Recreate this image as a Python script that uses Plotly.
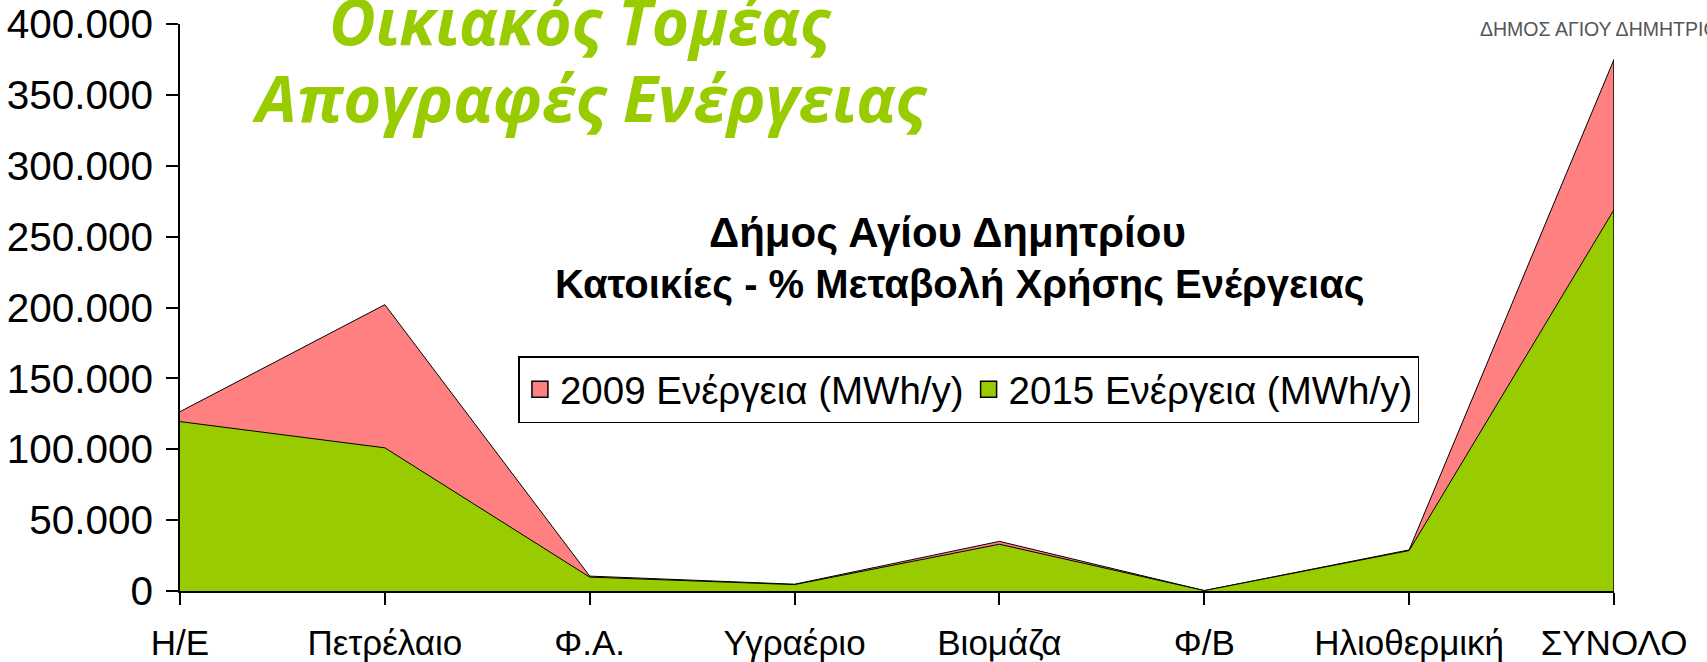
import plotly.graph_objects as go

categories = ["Η/Ε", "Πετρέλαιο", "Φ.Α.", "Υγραέριο", "Βιομάζα", "Φ/Β", "Ηλιοθερμική", "ΣΥΝΟΛΟ"]
energy_2009 = [126500, 202000, 10500, 4800, 35000, 300, 29000, 375000]
energy_2015 = [119500, 101000, 9800, 4500, 33000, 300, 28500, 269000]
y_ticks = [0, 50000, 100000, 150000, 200000, 250000, 300000, 350000, 400000]

PINK = "#FF8080"
GREEN = "#99CC00"
FONT = "Liberation Sans, Arial, sans-serif"
TITLE_FONT = "Open Sans, Noto Sans, sans-serif"

fig = go.Figure()

# overlapping areas, 2009 behind 2015 (Excel style)
fig.add_trace(go.Scatter(
    x=categories, y=energy_2009, mode="lines", fill="tozeroy",
    fillcolor=PINK, line=dict(color="black", width=1), showlegend=False,
))
fig.add_trace(go.Scatter(
    x=categories, y=energy_2015, mode="lines", fill="tozeroy",
    fillcolor=GREEN, line=dict(color="black", width=1), showlegend=False,
))
# right edge of the area outline
fig.add_trace(go.Scatter(
    x=[categories[-1], categories[-1]], y=[0, energy_2009[-1]], mode="lines",
    line=dict(color="black", width=1.5), showlegend=False, hoverinfo="skip",
))

# square legend swatches
for name, color in [("2009 Ενέργεια (MWh/y)", PINK), ("2015 Ενέργεια (MWh/y)", GREEN)]:
    fig.add_trace(go.Scatter(
        x=[None], y=[None], mode="markers", name=name,
        marker=dict(symbol="square", size=22, color=color, line=dict(color="black", width=1.5)),
    ))

annotations = [
    dict(text="<b><i>Οικιακός Τομέας</i></b>", x=0.279, y=1.006, font=dict(size=64, color=GREEN, family=TITLE_FONT)),
    dict(text="<b><i>Απογραφές Ενέργειας</i></b>", x=0.286, y=0.872, font=dict(size=65, color=GREEN, family=TITLE_FONT)),
    dict(text="<b>Δήμος Αγίου Δημητρίου</b>", x=0.535, y=0.633, font=dict(size=42, color="black", family=FONT)),
    dict(text="<b>Κατοικίες - % Μεταβολή Χρήσης Ενέργειας</b>", x=0.544, y=0.540, font=dict(size=40, color="black", family=FONT)),
]
for a in annotations:
    a.update(xref="paper", yref="paper", showarrow=False, xanchor="center", yanchor="middle")
annotations.append(dict(
    text="ΔΗΜΟΣ ΑΓΙΟΥ ΔΗΜΗΤΡΙΟΥ", xref="paper", yref="paper", x=0.905, y=0.992,
    xanchor="left", yanchor="middle", showarrow=False,
    font=dict(size=19.5, color="#555555", family=FONT),
))

fig.update_layout(
    width=1707, height=662,
    margin=dict(l=180, r=93, t=24, b=71),
    paper_bgcolor="white", plot_bgcolor="white",
    separators=",.",
    font=dict(family=FONT, color="black"),
    annotations=annotations,
    legend=dict(
        orientation="h", x=0.236, y=0.414, xanchor="left", yanchor="top",
        bordercolor="black", borderwidth=1.5, bgcolor="white",
        font=dict(size=38.5, family=FONT), itemwidth=30,
    ),
    xaxis=dict(
        type="category", range=[0, 7], showline=True, linecolor="black", linewidth=1.5,
        ticks="outside", ticklen=12, tickwidth=1.5, tickcolor="black",
        tickfont=dict(size=35, family=FONT), showgrid=False, zeroline=False,
        automargin=False, ticklabelstandoff=8,
    ),
    yaxis=dict(
        range=[0, 400000], tickvals=y_ticks, tickformat=",d",
        showline=True, linecolor="black", linewidth=1.5,
        ticks="outside", ticklen=12, tickwidth=1.5, tickcolor="black",
        tickfont=dict(size=40.5, family=FONT), showgrid=False, zeroline=False,
        automargin=False, ticklabelstandoff=5,
    ),
)

# drop the default page margin so the figure fills the window exactly
fig.write_html(
    "out.html",
    config={"displayModeBar": False},
    post_script="document.body.style.margin='0';",
)
